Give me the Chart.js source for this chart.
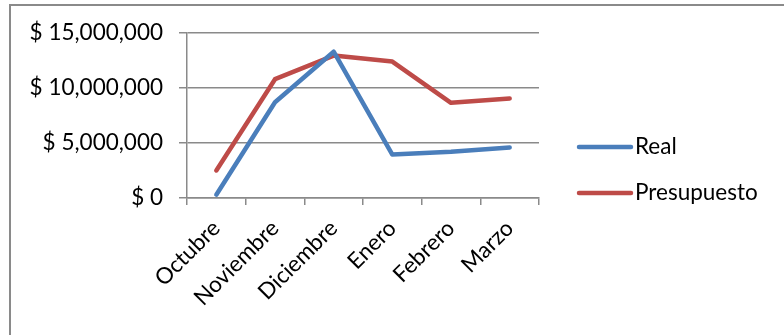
<!DOCTYPE html>
<html>
<head>
<meta charset="utf-8">
<script src="https://cdn.jsdelivr.net/npm/chart.js@4/dist/chart.umd.min.js"></script>
<style>
  html, body { margin: 0; padding: 0; background: #fff; overflow: hidden; }
  #wrap { position: relative; width: 784px; height: 335px; }
  #frame { position: absolute; left: 9px; top: 4px; width: 800px; height: 400px;
           border: 2px solid #8a8a8a; box-sizing: border-box; }
  canvas { position: absolute; left: 0; top: 0; }
</style>
</head>
<body>
<div id="wrap">
  <div id="frame"></div>
  <canvas id="c" width="784" height="335"></canvas>
</div>
<script>
const months = ['Octubre', 'Noviembre', 'Diciembre', 'Enero', 'Febrero', 'Marzo'];
const real = [300000, 8700000, 13300000, 3950000, 4200000, 4600000];
const presupuesto = [2500000, 10800000, 12950000, 12400000, 8650000, 9050000];
const yTicks = [0, 5000000, 10000000, 15000000];

const FONT = 'Lato, "Open Sans", sans-serif';
const FONT_SIZE = 22.5;
const AXIS_GREY = '#8a8a8a';

function money(v) {
  return '$ ' + Number(v).toLocaleString('en-US');
}

// Legend drawn to the right of the plot: thick line swatch plus label.
const sideLegend = {
  id: 'sideLegend',
  afterDraw(chart) {
    const ctx = chart.ctx;
    const rows = [147, 193];
    ctx.save();
    chart.data.datasets.forEach((ds, i) => {
      const y = rows[i];
      ctx.strokeStyle = ds.borderColor;
      ctx.lineWidth = 4.5;
      ctx.lineCap = 'round';
      ctx.beginPath();
      ctx.moveTo(579, y);
      ctx.lineTo(631, y);
      ctx.stroke();
      ctx.fillStyle = '#000';
      ctx.font = FONT_SIZE + 'px ' + FONT;
      ctx.textBaseline = 'middle';
      ctx.textAlign = 'left';
      ctx.fillText(ds.label, 635, y);
    });
    ctx.restore();
  }
};

new Chart(document.getElementById('c'), {
  type: 'line',
  data: {
    labels: months,
    datasets: [
      { label: 'Real', data: real, borderColor: '#4a7ebb', backgroundColor: '#4a7ebb',
        borderWidth: 4.5, pointRadius: 0, tension: 0, borderCapStyle: 'round', borderJoinStyle: 'round' },
      { label: 'Presupuesto', data: presupuesto, borderColor: '#be4b48', backgroundColor: '#be4b48',
        borderWidth: 4.5, pointRadius: 0, tension: 0, borderCapStyle: 'round', borderJoinStyle: 'round' }
    ]
  },
  options: {
    responsive: false,
    animation: false,
    layout: { padding: { top: 33, right: 245, left: 0, bottom: 0 } },
    plugins: { legend: { display: false }, tooltip: { enabled: false } },
    scales: {
      x: {
        offset: true,
        grid: { offset: true, drawOnChartArea: false, drawTicks: true, tickLength: 7,
                color: AXIS_GREY, lineWidth: 1.5 },
        border: { color: AXIS_GREY, width: 1.5 },
        ticks: { autoSkip: false, minRotation: 45, maxRotation: 45, padding: 10,
                 color: '#000', font: { family: FONT, size: FONT_SIZE } },
        afterFit(scale) { scale.height = 137; }
      },
      y: {
        min: 0, max: 15000000,
        afterBuildTicks(scale) { scale.ticks = yTicks.map(v => ({ value: v })); },
        grid: { color: AXIS_GREY, lineWidth: 1.5, tickLength: 8 },
        border: { color: AXIS_GREY, width: 1.5 },
        ticks: { padding: 16, color: '#000', font: { family: FONT, size: FONT_SIZE },
                 callback: v => money(v) },
        afterFit(scale) { scale.width = 187; }
      }
    }
  },
  plugins: [sideLegend]
});
</script>
</body>
</html>
